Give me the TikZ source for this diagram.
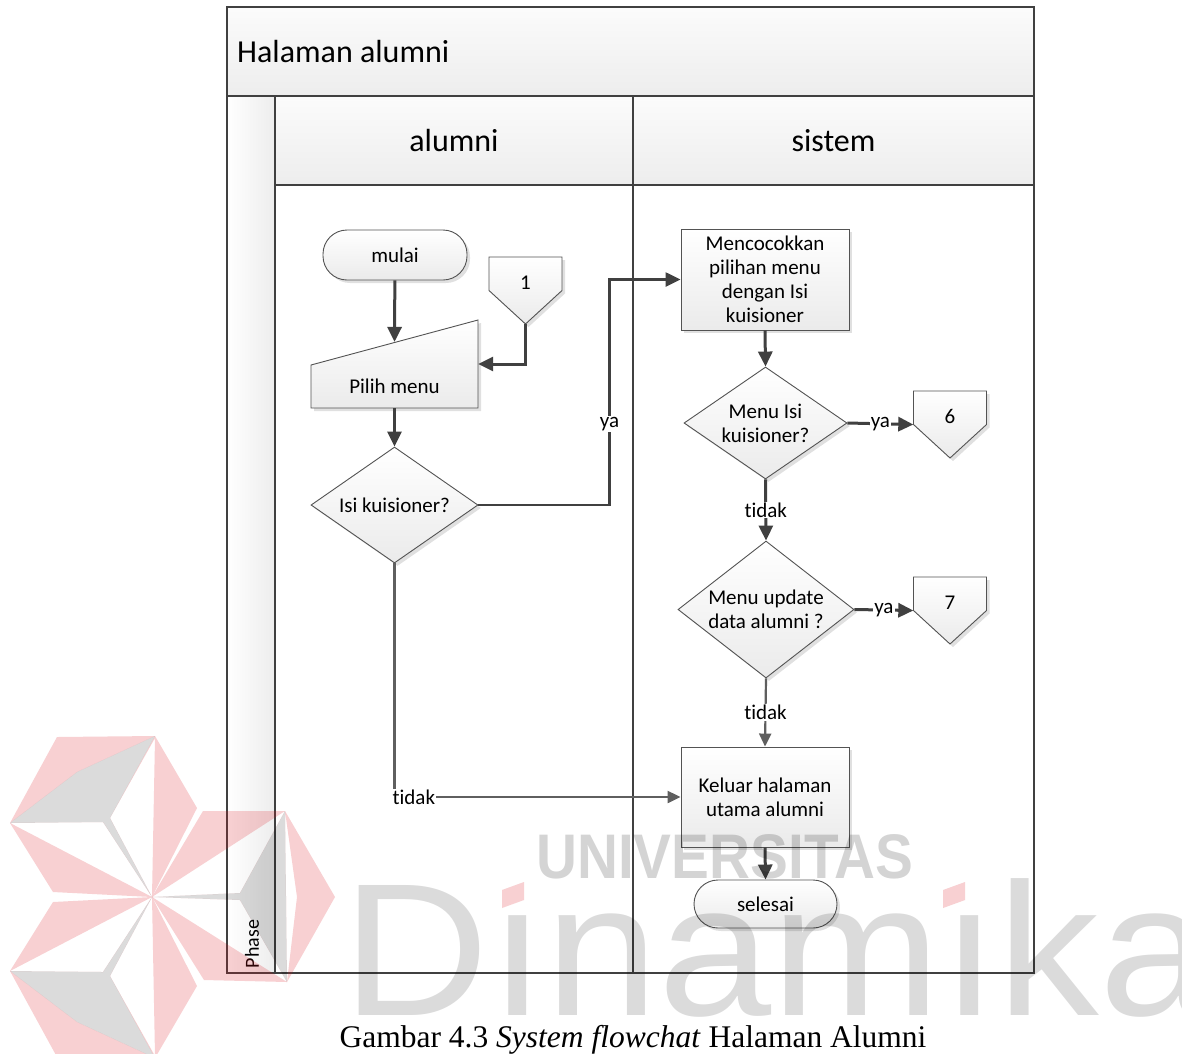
\documentclass[tikz,border=0pt]{standalone}
\usepackage{fontspec}
\setmainfont{Carlito}[Ligatures=NoCommon]
\newfontfamily\capfont{Liberation Serif}
\newfontfamily\markfont{Liberation Sans}
\usetikzlibrary{arrows.meta,shapes.geometric,shadows,calc}

\definecolor{linegray}{RGB}{64,64,64}
\definecolor{softgray}{RGB}{95,95,95}
\definecolor{logored}{RGB}{220,20,30}

\tikzset{
	lane/.style={draw=linegray, line width=2pt},
	shapebox/.style={draw=linegray!90, line width=0.9pt, top color=white, bottom color=gray!16,
		drop shadow={shadow xshift=3pt, shadow yshift=-3pt, fill=black, opacity=0.12}},
	teks/.style={font=\fontsize{21}{24}\selectfont},
	proses/.style={shapebox, teks, rectangle, minimum width=168pt, minimum height=101pt, inner sep=0pt, align=center},
	terminal/.style={shapebox, teks, rectangle, rounded corners=24pt, minimum width=144pt, minimum height=50pt},
	keputusan/.style={shapebox, teks, diamond, inner sep=0pt, align=center},
	offpg/.style={teks, minimum width=73pt, inner sep=0pt, text height=32pt, text depth=35pt},
	inputpg/.style={teks, minimum width=167pt, inner sep=0pt, text height=73pt, text depth=15pt},
	flow/.style={draw=linegray, line width=3pt, -{Triangle[length=15pt,width=14pt]}},
	flowtipis/.style={draw=softgray, line width=2.2pt, -{Triangle[length=13pt,width=12pt]}},
	ket/.style={teks, fill=white, inner sep=1pt},
}

\newcommand{\offpage}[4]{
	\draw[shapebox] ({#2-36.5},{#3-33.5}) -- ({#2+36.5},{#3-33.5}) -- ({#2+36.5},{#3}) -- ({#2},{#3+33.5}) -- ({#2-36.5},{#3}) -- cycle;
	\node[offpg] (#1) at (#2,#3) {#4};
}
\newcommand{\sisilogo}{
	\fill[logored, fill opacity=0.2, even odd rule]
		(152,897) -- (53,892) -- (10,823) -- (57,737) -- (155,736) -- (197,808) -- cycle
		(10,823) -- (77,772) -- (155,736) -- (110,818) -- (152,897) -- (103,822) -- cycle
		(10,823) -- (103,822) -- (152,897) -- cycle
		(110,818) -- (155,738) -- (152,897) -- cycle;
	\fill[black, fill opacity=0.14] (10,823) -- (77,772) -- (155,736) -- (110,818) -- (152,897) -- (103,822) -- cycle;
}

\begin{document}
\begin{tikzpicture}[x=1pt, y=-1pt]
	\useasboundingbox (0,0) rectangle (1182,1053);
	\fill[white] (0,0) rectangle (1182,1053);

	\draw[lane, top color=gray!3, bottom color=gray!14] (227,7) rectangle (1034,96);
	\draw[lane, left color=white, right color=gray!14] (227,96) rectangle (275,973);
	\draw[lane, top color=gray!3, bottom color=gray!14] (275,96) rectangle (633,185);
	\draw[lane, top color=gray!3, bottom color=gray!14] (633,96) rectangle (1034,185);
	\draw[lane] (275,185) rectangle (633,973);
	\draw[lane] (633,185) rectangle (1034,973);
	\node[anchor=west, inner sep=0pt, font=\fontsize{32}{36}\selectfont] (judul) at (237,52) {Halaman alumni};
	\node[font=\fontsize{32}{36}\selectfont] (lalumni) at (454,141) {alumni};
	\node[font=\fontsize{32}{36}\selectfont] (lsistem) at (833.5,141) {sistem};
	\node[rotate=90, font=\fontsize{20}{20}\selectfont] (fase) at (252,944) {Phase};

	\node[terminal] (mulai) at (395,255) {mulai};
	\offpage{satu}{525.5}{290.5}{1}
	\draw[shapebox] (311,365) -- (478,320) -- (478,408) -- (311,408) -- cycle;
	\node[inputpg] (pilih) at (394.5,364) {Pilih menu};
	\node[keputusan, minimum width=167pt, minimum height=116pt, aspect=1.44] (isi) at (394.5,505) {Isi kuisioner?};
	\node[proses] (cocok) at (765,279.5) {Mencocokkan\\pilihan menu\\dengan Isi\\kuisioner};
	\node[keputusan, minimum width=163pt, minimum height=112pt, aspect=1.455] (menuisi) at (765.5,423) {Menu Isi\\kuisioner?};
	\offpage{enam}{950}{424.5}{6}
	\node[keputusan, minimum width=176pt, minimum height=137pt, aspect=1.285] (menuupd) at (766,609.5) {Menu update\\data alumni ?};
	\offpage{tujuh}{950}{610.5}{7}
	\node[proses, minimum height=100pt] (keluar) at (765,797) {Keluar halaman\\utama alumni};
	\node[terminal, minimum width=143pt, minimum height=48pt] (selesai) at (765.5,904) {selesai};

	\draw[flow] (mulai) -- ($(pilih.west)!0.5!(pilih.north east)$);
	\draw[flow] (satu.south) |- (pilih.east);
	\draw[flow] (pilih.south) -- (isi.north);
	\draw[flow, line width=2.4pt] (isi.east) -- ++(131,0) |- (cocok.west) node[ket, pos=0.18] {ya};
	\draw[flow] (cocok.south) -- (menuisi.north);
	\draw[flow] (menuisi.east) -- node[ket] {ya} (enam.west);
	\draw[flow] (menuisi.south) -- node[ket] {tidak} (menuupd.north);
	\draw[flow] (menuupd.east) -- node[ket] {ya} (tujuh.west);
	\draw[flowtipis] (menuupd.south) -- node[ket] {tidak} (keluar.north);
	\draw[flowtipis] (isi.south) |- (keluar.west) node[ket, pos=0.5, anchor=west, xshift=-4pt] {tidak};
	\draw[flow] (keluar.south) -- (selesai.north);

	\node[anchor=base, inner sep=0pt, font=\capfont\fontsize{31.5}{34}\selectfont] (keterangan) at (633,1047) {Gambar 4.3 \textit{System flowchat} Halaman Alumni};

	\sisilogo
	\begin{scope}[yshift=-1794pt, yscale=-1]
		\sisilogo
	\end{scope}
	\fill[logored, fill opacity=0.2, even odd rule]
		(152,897) -- (203,811) -- (285,811) -- (335,897) -- (287,982) -- (204,980) -- cycle
		(285,811) -- (287,982) -- (240,900) -- (152,897) -- (240,893) -- cycle
		(152,897) -- (285,811) -- (240,893) -- cycle
		(152,897) -- (240,900) -- (287,982) -- cycle
		(285,811) -- (297,897) -- (287,982) -- cycle;
	\fill[black, fill opacity=0.14] (285,811) -- (287,982) -- (240,900) -- (152,897) -- (240,893) -- cycle;
	\node[anchor=base west, inner sep=0pt, text=black, text opacity=0.17, font=\markfont\bfseries\fontsize{63}{63}\selectfont] (univ) at (536,878) {\scalebox{0.9}[1]{UNIVERSITAS}};
	\node[anchor=base west, inner sep=0pt, text=black, text opacity=0.14, font=\markfont\fontsize{189}{189}\selectfont] (dinamika) at (342,1015) {\scalebox{1.076}[1]{Dınamıka}};
	\foreach \dx in {502,943}
		\fill[logored, fill opacity=0.2] (\dx,908) -- (\dx,890) -- ({\dx+22},882) -- ({\dx+22},900) -- cycle;
\end{tikzpicture}
\end{document}
